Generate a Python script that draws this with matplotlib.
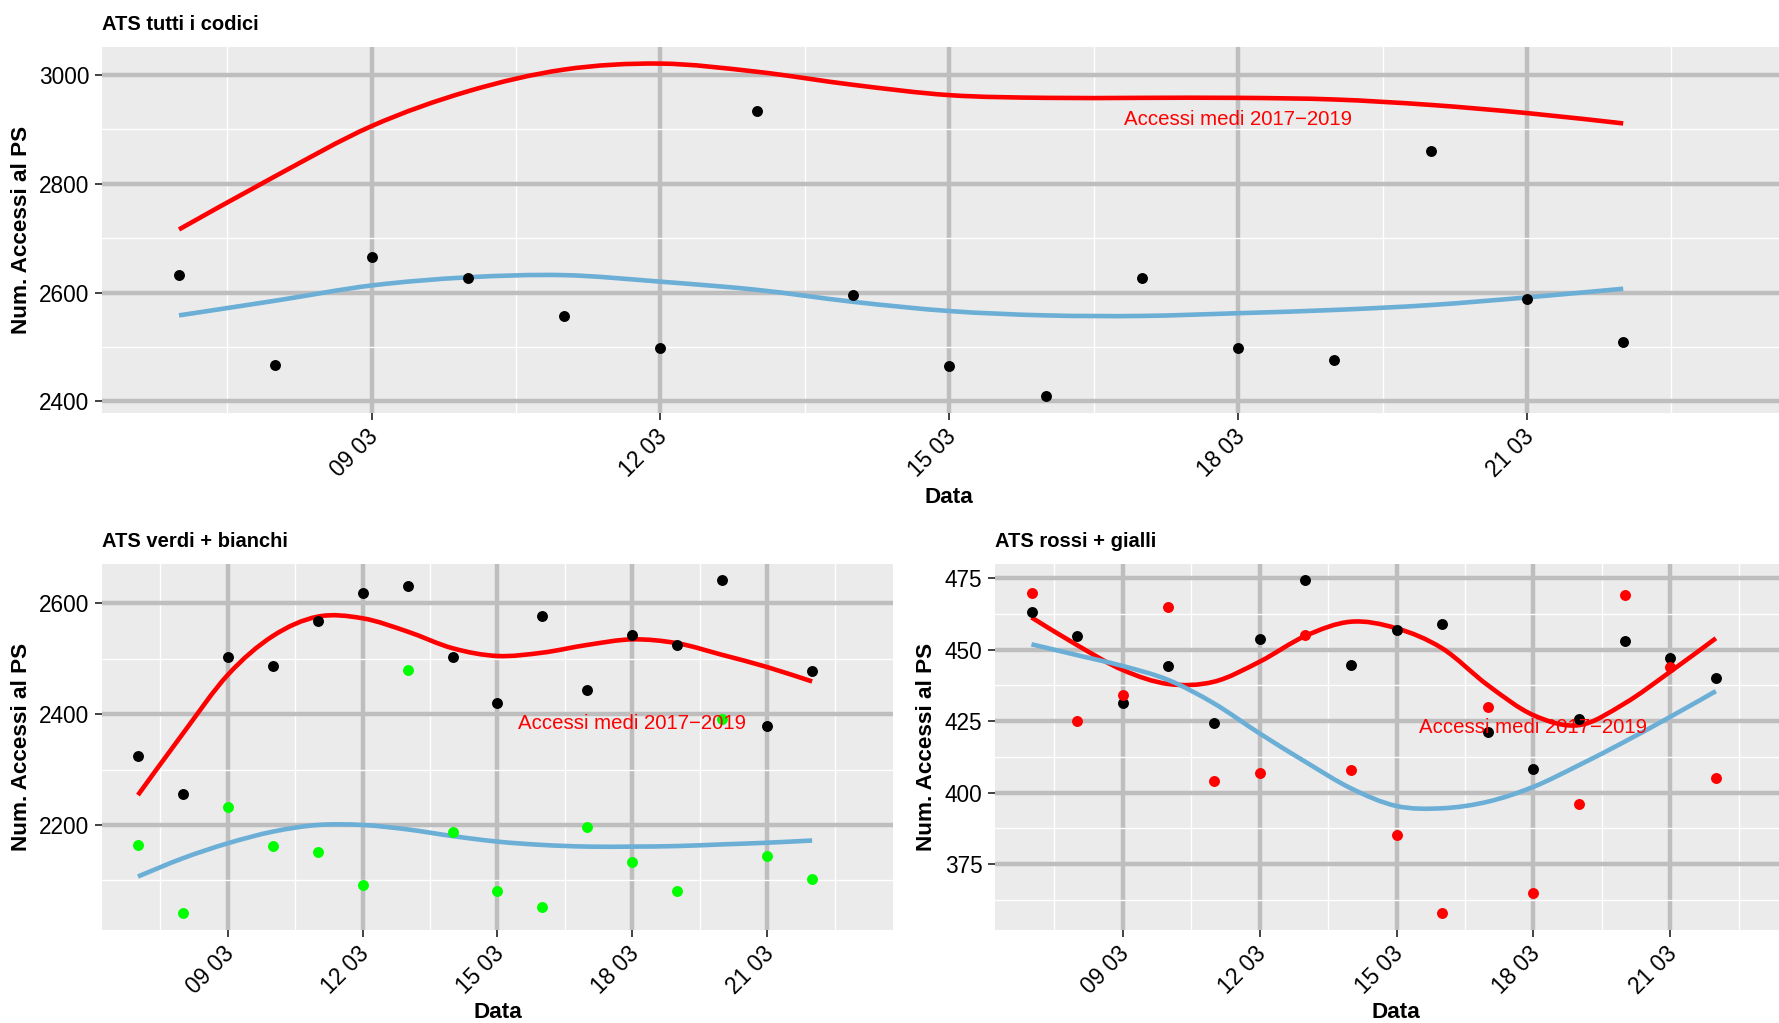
import matplotlib
matplotlib.use('Agg')
import matplotlib.pyplot as plt
import matplotlib.dates as mdates
import matplotlib.transforms as mtransforms
from matplotlib.path import Path
from matplotlib.patches import PathPatch
import numpy as np
import pandas as pd

plt.rcParams['font.family'] = ['Liberation Sans', 'DejaVu Sans']

# days 07/03 .. 22/03/2020
dates = pd.to_datetime([
    '2020-03-07', '2020-03-08', '2020-03-09', '2020-03-10',
    '2020-03-11', '2020-03-12', '2020-03-13', '2020-03-14',
    '2020-03-15', '2020-03-16', '2020-03-17', '2020-03-18',
    '2020-03-19', '2020-03-20', '2020-03-21', '2020-03-22',
])

# ATS tutti i codici
tot_2020 = [2633, 2466, 2666, 2627, 2556, 2498, 2934, 2596,
            2465, 2410, 2627, 2498, 2476, 2860, 2588, 2509]
tot_medie_fit = [2716, 2814, 2906, 2970, 3010, 3021, 3006, 2982,
                 2963, 2958, 2958, 2958, 2955, 2945, 2930, 2911]
tot_2020_fit = [2558, 2585, 2613, 2628, 2632, 2620, 2605, 2583,
                2566, 2558, 2557, 2562, 2568, 2577, 2591, 2607]

# ATS verdi + bianchi
vb_medie = [2325, 2256, 2504, 2487, 2568, 2618, 2631, 2503,
            2421, 2578, 2444, 2543, 2524, 2642, 2379, 2478]
vb_2020 = [2163, 2042, 2232, 2162, 2152, 2092, 2480, 2188,
           2080, 2052, 2197, 2133, 2080, 2391, 2144, 2103]
vb_medie_fit = [2254, 2365, 2471, 2541, 2576, 2573, 2549, 2519,
                2505, 2511, 2525, 2535, 2528, 2507, 2485, 2459]
vb_2020_fit = [2107, 2140, 2167, 2188, 2200, 2200, 2192, 2180,
               2170, 2164, 2161, 2161, 2162, 2165, 2168, 2172]

# ATS rossi + gialli
rg_medie = [463.3, 454.7, 431.2, 444.3, 424.3, 453.8, 474.3, 444.6,
            457.0, 459.0, 421.2, 408.2, 425.6, 453.0, 447.0, 440.0]
rg_2020 = [470.0, 424.9, 434.1, 465.0, 403.9, 407.0, 455.0, 408.0,
           385.0, 357.9, 430.0, 364.9, 395.9, 469.0, 443.9, 405.0]
rg_medie_fit = [461.3, 451.6, 442.9, 438.0, 438.8, 445.8, 454.8, 459.8,
                457.5, 450.5, 437.6, 427.1, 423.6, 431.2, 442.3, 454.0]
rg_2020_fit = [451.9, 448.1, 444.3, 439.4, 431.2, 420.7, 410.8, 401.5,
               395.3, 394.5, 396.8, 402.0, 409.6, 417.8, 426.5, 435.5]

label_text = 'Accessi medi 2017\u22122019'
label_date = pd.Timestamp('2020-03-18')

BLUE = '#6BAED6'
W, H = 1779, 1023

fig = plt.figure(figsize=(W / 100, H / 100), dpi=100)


def box(left, top, right, bottom):
    return [left / W, 1 - bottom / H, (right - left) / W, (bottom - top) / H]


def style(ax, yticks, ylim):
    ax.set_facecolor('#EBEBEB')
    for s in ax.spines.values():
        s.set_visible(False)
    d0 = mdates.date2num(pd.Timestamp('2020-03-06'))
    ax.set_xlim(d0 + 0.2, d0 + 17.8)
    ax.set_ylim(*ylim)
    major_days = pd.to_datetime(['2020-03-09', '2020-03-12', '2020-03-15',
                                 '2020-03-18', '2020-03-21'])
    ax.set_xticks(mdates.date2num(major_days))
    ax.set_xticks(list(mdates.date2num(major_days) - 1.5) + [d0 + 16.5], minor=True)
    ax.xaxis.set_major_formatter(mdates.DateFormatter('%d %m'))
    step = yticks[1] - yticks[0]
    ym = np.arange(yticks[0] - step / 2, yticks[-1] + step, step)
    ym = ym[(ym > ylim[0]) & (ym < ylim[1])]
    ax.set_yticks(yticks)
    ax.set_yticks(ym, minor=True)
    ax.grid(which='major', color='#BEBEBE', linewidth=3.2)
    ax.grid(which='minor', color='white', linewidth=0.95)
    ax.set_axisbelow(True)
    ax.tick_params(which='major', length=5, width=1.3, color='#333333',
                   pad=4, labelsize=16.3, labelcolor='black')
    ax.tick_params(which='minor', length=0)
    plt.setp(ax.get_xticklabels(), rotation=45, ha='right', va='top',
             rotation_mode='anchor')
    off = mtransforms.ScaledTranslation(-5 / 100, 0, fig.dpi_scale_trans)
    for lbl in ax.get_xticklabels():
        lbl.set_transform(lbl.get_transform() + off)


def smooth_line(ax, x, y, color):
    # curve drawn through the read values with cubic bezier segments
    pts = np.column_stack([mdates.date2num(x), np.asarray(y, float)])
    ext = np.vstack([pts[0], pts, pts[-1]])
    verts, codes = [pts[0]], [Path.MOVETO]
    for i in range(len(pts) - 1):
        p0, p1, p2, p3 = ext[i], ext[i + 1], ext[i + 2], ext[i + 3]
        verts += [p1 + (p2 - p0) / 6, p2 - (p3 - p1) / 6, p2]
        codes += [Path.CURVE4] * 3
    ax.add_patch(PathPatch(Path(verts, codes), fill=False, edgecolor=color,
                           linewidth=3.3, capstyle='butt', zorder=3))


def panel(ax, fits, points, label_y):
    for vals, col in fits:
        smooth_line(ax, dates, vals, col)
    for vals, col in points:
        ax.scatter(dates, vals, s=62, color=col, linewidths=0, zorder=4)
    ax.text(label_date, label_y, label_text, color='red', fontsize=14.7,
            ha='center', va='baseline', zorder=5)


ax_tot = fig.add_axes(box(102, 47, 1796.5, 413))
ax_vb = fig.add_axes(box(102, 564, 893, 930))
ax_rg = fig.add_axes(box(995, 564, 1798, 930))

panel(ax_tot, [(tot_medie_fit, 'red'), (tot_2020_fit, BLUE)],
      [(tot_2020, 'black')], 2908)
panel(ax_vb, [(vb_medie_fit, 'red'), (vb_2020_fit, BLUE)],
      [(vb_medie, 'black'), (vb_2020, '#00FF00')], 2372.6)
panel(ax_rg, [(rg_medie_fit, 'red'), (rg_2020_fit, BLUE)],
      [(rg_medie, 'black'), (rg_2020, 'red')], 421)

style(ax_tot, [2400, 2600, 2800, 3000], (2378.5, 3051.5))
style(ax_vb, [2200, 2400, 2600], (2010.5, 2671))
style(ax_rg, [375, 400, 425, 450, 475], (351.9, 480))


# titles, axis titles (pixel placed like the ggplot layout)
def ftext(x, y, s, **kw):
    fig.text(x / W, 1 - y / H, s, **kw)


ftext(102, 30, 'ATS tutti i codici', fontsize=14.5, fontweight='bold', va='baseline')
ftext(102, 547, 'ATS verdi + bianchi', fontsize=14.5, fontweight='bold', va='baseline')
ftext(995, 547, 'ATS rossi + gialli', fontsize=14.5, fontweight='bold', va='baseline')

for x, y in [(22, 230), (21.5, 747), (926, 747)]:
    ftext(x, y, 'Num. Accessi al PS', fontsize=16.2, fontweight='bold',
          rotation=90, ha='center', va='center')

for x, y in [(949, 503), (497.5, 1018), (1396, 1018)]:
    ftext(x, y, 'Data', fontsize=16.2, fontweight='bold', ha='center', va='baseline')

fig.savefig('out.png', dpi=100)
